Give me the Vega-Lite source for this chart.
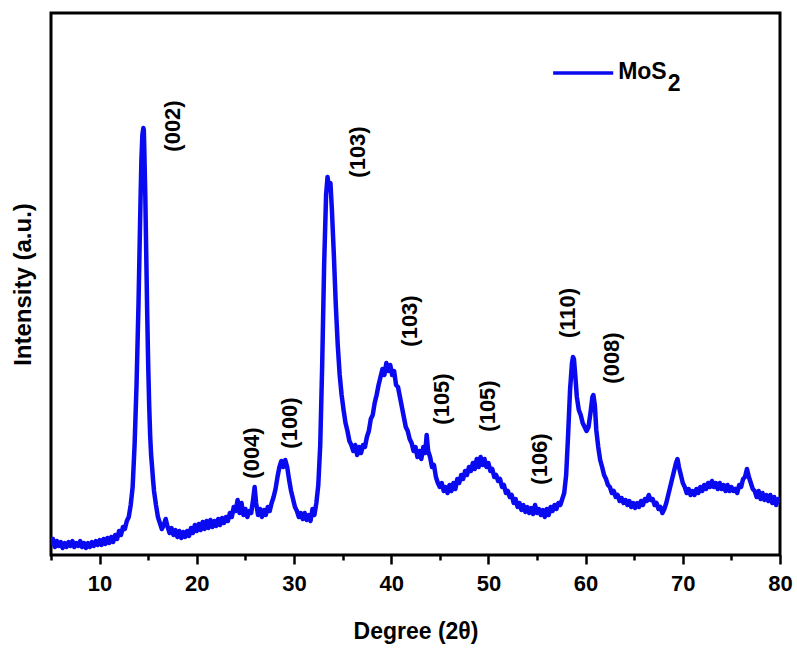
{
  "$schema": "https://vega.github.io/schema/vega-lite/v6.json",
  "width": 729,
  "height": 542,
  "autosize": {"type": "none"},
  "padding": {"left": 51, "top": 13, "right": 17, "bottom": 93},
  "background": "white",
  "config": {
    "view": {"stroke": "black", "strokeWidth": 3},
    "font": "Liberation Sans"
  },
  "datasets": {
    "xrd": [
      {"deg":5.0,"I":10},{"deg":5.2,"I":16},{"deg":5.4,"I":8},{"deg":5.6,"I":14},{"deg":5.8,"I":9},{"deg":6.0,"I":13},{"deg":6.2,"I":7},{"deg":6.4,"I":12},{"deg":6.6,"I":8},{"deg":6.8,"I":13},
      {"deg":7.0,"I":9},{"deg":7.2,"I":14},{"deg":7.4,"I":8},{"deg":7.6,"I":12},{"deg":7.8,"I":9},{"deg":8.0,"I":14},{"deg":8.2,"I":8},{"deg":8.4,"I":12},{"deg":8.6,"I":7},{"deg":8.8,"I":12},
      {"deg":9.0,"I":8},{"deg":9.2,"I":13},{"deg":9.4,"I":9},{"deg":9.6,"I":14},{"deg":9.8,"I":10},{"deg":10.0,"I":15},{"deg":10.2,"I":10},{"deg":10.4,"I":16},{"deg":10.6,"I":11},{"deg":10.8,"I":17},
      {"deg":11.0,"I":12},{"deg":11.2,"I":18},{"deg":11.4,"I":13},{"deg":11.6,"I":20},{"deg":11.8,"I":16},{"deg":12.0,"I":24},{"deg":12.2,"I":20},{"deg":12.4,"I":28},{"deg":12.6,"I":26},{"deg":12.8,"I":34},
      {"deg":13.0,"I":38},{"deg":13.2,"I":50},{"deg":13.4,"I":68},{"deg":13.6,"I":110},{"deg":13.8,"I":170},{"deg":14.0,"I":250},{"deg":14.1,"I":300},{"deg":14.2,"I":350},{"deg":14.3,"I":395},{"deg":14.4,"I":420},
      {"deg":14.5,"I":427},{"deg":14.55,"I":425},{"deg":14.6,"I":405},{"deg":14.7,"I":360},{"deg":14.8,"I":300},{"deg":14.9,"I":240},{"deg":15.0,"I":190},{"deg":15.1,"I":150},{"deg":15.2,"I":120},{"deg":15.3,"I":100},
      {"deg":15.4,"I":88},{"deg":15.5,"I":75},{"deg":15.6,"I":64},{"deg":15.8,"I":50},{"deg":16.0,"I":38},{"deg":16.2,"I":32},{"deg":16.4,"I":26},{"deg":16.6,"I":30},{"deg":16.8,"I":36},{"deg":17.0,"I":28},
      {"deg":17.2,"I":22},{"deg":17.4,"I":27},{"deg":17.6,"I":20},{"deg":17.8,"I":25},{"deg":18.0,"I":18},{"deg":18.2,"I":24},{"deg":18.4,"I":17},{"deg":18.6,"I":23},{"deg":18.8,"I":18},{"deg":19.0,"I":24},
      {"deg":19.2,"I":19},{"deg":19.4,"I":27},{"deg":19.6,"I":22},{"deg":19.8,"I":30},{"deg":20.0,"I":24},{"deg":20.2,"I":31},{"deg":20.4,"I":25},{"deg":20.6,"I":33},{"deg":20.8,"I":26},{"deg":21.0,"I":34},
      {"deg":21.2,"I":27},{"deg":21.4,"I":35},{"deg":21.6,"I":28},{"deg":21.8,"I":34},{"deg":22.0,"I":29},{"deg":22.2,"I":36},{"deg":22.4,"I":30},{"deg":22.6,"I":37},{"deg":22.8,"I":32},{"deg":23.0,"I":38},
      {"deg":23.2,"I":34},{"deg":23.4,"I":42},{"deg":23.6,"I":38},{"deg":23.8,"I":48},{"deg":24.0,"I":44},{"deg":24.2,"I":55},{"deg":24.4,"I":42},{"deg":24.6,"I":52},{"deg":24.8,"I":40},{"deg":25.0,"I":46},
      {"deg":25.2,"I":38},{"deg":25.4,"I":44},{"deg":25.6,"I":42},{"deg":25.8,"I":56},{"deg":25.95,"I":68},{"deg":26.1,"I":52},{"deg":26.3,"I":40},{"deg":26.5,"I":46},{"deg":26.7,"I":38},{"deg":26.9,"I":45},
      {"deg":27.1,"I":40},{"deg":27.3,"I":48},{"deg":27.5,"I":44},{"deg":27.7,"I":52},{"deg":27.9,"I":58},{"deg":28.1,"I":66},{"deg":28.3,"I":78},{"deg":28.5,"I":88},{"deg":28.7,"I":94},{"deg":28.9,"I":88},
      {"deg":29.1,"I":95},{"deg":29.3,"I":88},{"deg":29.5,"I":75},{"deg":29.7,"I":64},{"deg":29.9,"I":56},{"deg":30.1,"I":48},{"deg":30.3,"I":44},{"deg":30.5,"I":38},{"deg":30.7,"I":42},{"deg":30.9,"I":36},
      {"deg":31.1,"I":42},{"deg":31.3,"I":35},{"deg":31.5,"I":40},{"deg":31.7,"I":34},{"deg":31.9,"I":46},{"deg":32.1,"I":40},{"deg":32.3,"I":52},{"deg":32.5,"I":70},{"deg":32.7,"I":110},{"deg":32.9,"I":190},
      {"deg":33.1,"I":290},{"deg":33.3,"I":360},{"deg":33.45,"I":378},{"deg":33.6,"I":368},{"deg":33.75,"I":372},{"deg":33.9,"I":345},{"deg":34.1,"I":300},{"deg":34.3,"I":250},{"deg":34.5,"I":210},{"deg":34.7,"I":180},
      {"deg":34.9,"I":160},{"deg":35.1,"I":145},{"deg":35.3,"I":132},{"deg":35.5,"I":124},{"deg":35.7,"I":114},{"deg":35.9,"I":110},{"deg":36.1,"I":104},{"deg":36.3,"I":110},{"deg":36.5,"I":100},{"deg":36.7,"I":108},
      {"deg":36.9,"I":102},{"deg":37.1,"I":110},{"deg":37.3,"I":108},{"deg":37.5,"I":118},{"deg":37.7,"I":124},{"deg":37.9,"I":136},{"deg":38.1,"I":140},{"deg":38.3,"I":152},{"deg":38.5,"I":160},{"deg":38.7,"I":170},
      {"deg":38.9,"I":178},{"deg":39.1,"I":186},{"deg":39.3,"I":180},{"deg":39.5,"I":192},{"deg":39.7,"I":184},{"deg":39.9,"I":190},{"deg":40.1,"I":180},{"deg":40.3,"I":184},{"deg":40.5,"I":170},{"deg":40.7,"I":168},
      {"deg":40.9,"I":158},{"deg":41.1,"I":148},{"deg":41.3,"I":138},{"deg":41.5,"I":128},{"deg":41.7,"I":124},{"deg":41.9,"I":116},{"deg":42.1,"I":112},{"deg":42.3,"I":104},{"deg":42.5,"I":108},{"deg":42.7,"I":98},
      {"deg":42.9,"I":104},{"deg":43.1,"I":96},{"deg":43.3,"I":108},{"deg":43.5,"I":102},{"deg":43.65,"I":120},{"deg":43.8,"I":104},{"deg":44.0,"I":98},{"deg":44.2,"I":88},{"deg":44.4,"I":90},{"deg":44.6,"I":78},
      {"deg":44.8,"I":72},{"deg":45.0,"I":68},{"deg":45.2,"I":72},{"deg":45.4,"I":64},{"deg":45.6,"I":68},{"deg":45.8,"I":62},{"deg":46.0,"I":70},{"deg":46.2,"I":64},{"deg":46.4,"I":72},{"deg":46.6,"I":66},
      {"deg":46.8,"I":76},{"deg":47.0,"I":72},{"deg":47.2,"I":80},{"deg":47.4,"I":76},{"deg":47.6,"I":84},{"deg":47.8,"I":80},{"deg":48.0,"I":88},{"deg":48.2,"I":84},{"deg":48.4,"I":92},{"deg":48.6,"I":86},
      {"deg":48.8,"I":96},{"deg":49.0,"I":88},{"deg":49.2,"I":98},{"deg":49.4,"I":90},{"deg":49.6,"I":96},{"deg":49.8,"I":88},{"deg":50.0,"I":92},{"deg":50.2,"I":84},{"deg":50.4,"I":86},{"deg":50.6,"I":78},
      {"deg":50.8,"I":80},{"deg":51.0,"I":74},{"deg":51.2,"I":76},{"deg":51.4,"I":68},{"deg":51.6,"I":70},{"deg":51.8,"I":62},{"deg":52.0,"I":64},{"deg":52.2,"I":58},{"deg":52.4,"I":60},{"deg":52.6,"I":52},
      {"deg":52.8,"I":56},{"deg":53.0,"I":48},{"deg":53.2,"I":52},{"deg":53.4,"I":45},{"deg":53.6,"I":50},{"deg":53.8,"I":43},{"deg":54.0,"I":48},{"deg":54.2,"I":42},{"deg":54.4,"I":47},{"deg":54.6,"I":41},
      {"deg":54.8,"I":50},{"deg":55.0,"I":42},{"deg":55.2,"I":46},{"deg":55.4,"I":40},{"deg":55.6,"I":45},{"deg":55.8,"I":38},{"deg":56.0,"I":46},{"deg":56.2,"I":40},{"deg":56.4,"I":48},{"deg":56.6,"I":44},
      {"deg":56.8,"I":50},{"deg":57.0,"I":46},{"deg":57.2,"I":52},{"deg":57.4,"I":50},{"deg":57.6,"I":56},{"deg":57.8,"I":62},{"deg":58.0,"I":80},{"deg":58.2,"I":120},{"deg":58.4,"I":165},{"deg":58.6,"I":192},
      {"deg":58.7,"I":198},{"deg":58.8,"I":196},{"deg":58.95,"I":178},{"deg":59.1,"I":158},{"deg":59.3,"I":145},{"deg":59.5,"I":140},{"deg":59.7,"I":132},{"deg":59.9,"I":128},{"deg":60.1,"I":124},{"deg":60.3,"I":128},
      {"deg":60.5,"I":142},{"deg":60.7,"I":158},{"deg":60.8,"I":160},{"deg":60.95,"I":150},{"deg":61.1,"I":125},{"deg":61.3,"I":108},{"deg":61.5,"I":95},{"deg":61.7,"I":88},{"deg":61.9,"I":80},{"deg":62.1,"I":76},
      {"deg":62.3,"I":70},{"deg":62.5,"I":68},{"deg":62.7,"I":62},{"deg":62.9,"I":64},{"deg":63.1,"I":58},{"deg":63.3,"I":60},{"deg":63.5,"I":54},{"deg":63.7,"I":57},{"deg":63.9,"I":52},{"deg":64.1,"I":55},
      {"deg":64.3,"I":50},{"deg":64.5,"I":54},{"deg":64.7,"I":48},{"deg":64.9,"I":52},{"deg":65.1,"I":47},{"deg":65.3,"I":52},{"deg":65.5,"I":48},{"deg":65.7,"I":54},{"deg":65.9,"I":50},{"deg":66.1,"I":56},
      {"deg":66.3,"I":54},{"deg":66.5,"I":60},{"deg":66.7,"I":55},{"deg":66.9,"I":56},{"deg":67.1,"I":50},{"deg":67.3,"I":52},{"deg":67.5,"I":46},{"deg":67.7,"I":48},{"deg":67.9,"I":42},{"deg":68.1,"I":46},
      {"deg":68.3,"I":52},{"deg":68.5,"I":60},{"deg":68.7,"I":68},{"deg":68.9,"I":76},{"deg":69.1,"I":84},{"deg":69.3,"I":92},{"deg":69.45,"I":96},{"deg":69.6,"I":88},{"deg":69.8,"I":80},{"deg":70.0,"I":72},
      {"deg":70.2,"I":68},{"deg":70.4,"I":62},{"deg":70.6,"I":66},{"deg":70.8,"I":60},{"deg":71.0,"I":64},{"deg":71.2,"I":60},{"deg":71.4,"I":66},{"deg":71.6,"I":62},{"deg":71.8,"I":68},{"deg":72.0,"I":64},
      {"deg":72.2,"I":70},{"deg":72.4,"I":66},{"deg":72.6,"I":72},{"deg":72.8,"I":68},{"deg":73.0,"I":74},{"deg":73.2,"I":68},{"deg":73.4,"I":72},{"deg":73.6,"I":66},{"deg":73.8,"I":72},{"deg":74.0,"I":66},
      {"deg":74.2,"I":70},{"deg":74.4,"I":64},{"deg":74.6,"I":70},{"deg":74.8,"I":64},{"deg":75.0,"I":68},{"deg":75.2,"I":64},{"deg":75.4,"I":66},{"deg":75.6,"I":62},{"deg":75.8,"I":70},{"deg":76.0,"I":68},
      {"deg":76.2,"I":76},{"deg":76.4,"I":78},{"deg":76.6,"I":86},{"deg":76.8,"I":78},{"deg":77.0,"I":72},{"deg":77.2,"I":66},{"deg":77.4,"I":64},{"deg":77.6,"I":58},{"deg":77.8,"I":64},{"deg":78.0,"I":56},
      {"deg":78.2,"I":62},{"deg":78.4,"I":55},{"deg":78.6,"I":60},{"deg":78.8,"I":54},{"deg":79.0,"I":60},{"deg":79.2,"I":52},{"deg":79.4,"I":58},{"deg":79.6,"I":50},{"deg":79.8,"I":56},{"deg":80.0,"I":52}
    ],
    "peaks": [
      {"deg":17.5,"I":429,"label":"(002)"},
      {"deg":36.6,"I":403,"label":"(103)"},
      {"deg":25.66,"I":102,"label":"(004)"},
      {"deg":29.57,"I":132,"label":"(100)"},
      {"deg":41.93,"I":234,"label":"(103)"},
      {"deg":45.22,"I":156,"label":"(105)"},
      {"deg":49.96,"I":149,"label":"(105)"},
      {"deg":55.32,"I":96,"label":"(106)"},
      {"deg":58.2,"I":242,"label":"(110)"},
      {"deg":62.74,"I":197,"label":"(008)"}
    ],
    "legendLine": [{"x1":56.66,"x2":62.84,"I":482}],
    "legendText": [
      {"deg":63.35,"I":483,"t":"MoS"},
      {"deg":68.45,"I":471,"t":"2"}
    ]
  },
  "layer": [
    {
      "data": {"name": "xrd"},
      "mark": {"type": "line", "color": "#0a0af0", "strokeWidth": 4.5, "strokeJoin": "round", "clip": true},
      "encoding": {
        "x": {
          "field": "deg", "type": "quantitative",
          "scale": {"domain": [5, 80], "nice": false, "zero": false},
          "axis": {
            "values": [5,10,15,20,25,30,35,40,45,50,55,60,65,70,75,80],
            "labelExpr": "datum.value % 10 === 0 ? datum.label : ''",
            "domain": false,
            "grid": false,
            "tickColor": "black",
            "tickWidth": 2.5,
            "tickSize": {"condition": {"test": "datum.value % 10 === 0", "value": 9}, "value": 5},
            "labelFont": "Liberation Sans",
            "labelFontWeight": "bold",
            "labelFontSize": 22,
            "labelColor": "black",
            "labelPadding": 9,
            "labelFlush": false,
            "title": "Degree (2θ)",
            "titleFont": "Liberation Sans",
            "titleFontWeight": "bold",
            "titleFontSize": 23,
            "titleColor": "black",
            "titlePadding": 26
          }
        },
        "y": {
          "field": "I", "type": "quantitative",
          "scale": {"domain": [0, 542], "nice": false, "zero": false},
          "axis": {
            "domain": false, "ticks": false, "labels": false, "grid": false,
            "title": "Intensity (a.u.)",
            "titleFont": "Liberation Sans",
            "titleFontWeight": "bold",
            "titleFontSize": 24,
            "titleColor": "black",
            "titlePadding": 16
          }
        }
      }
    },
    {
      "data": {"name": "peaks"},
      "mark": {"type": "text", "angle": 270, "align": "center", "baseline": "middle", "font": "Liberation Sans", "fontWeight": "bold", "fontSize": 22, "color": "black"},
      "encoding": {
        "x": {"field": "deg", "type": "quantitative"},
        "y": {"field": "I", "type": "quantitative"},
        "text": {"field": "label"}
      }
    },
    {
      "data": {"name": "legendLine"},
      "mark": {"type": "rule", "color": "#0a0af0", "strokeWidth": 3.5},
      "encoding": {
        "x": {"field": "x1", "type": "quantitative"},
        "x2": {"field": "x2"},
        "y": {"field": "I", "type": "quantitative"}
      }
    },
    {
      "data": {"name": "legendText"},
      "mark": {"type": "text", "align": "left", "baseline": "middle", "font": "Liberation Sans", "fontWeight": "bold", "fontSize": 23, "color": "black"},
      "encoding": {
        "x": {"field": "deg", "type": "quantitative"},
        "y": {"field": "I", "type": "quantitative"},
        "text": {"field": "t"}
      }
    }
  ]
}
